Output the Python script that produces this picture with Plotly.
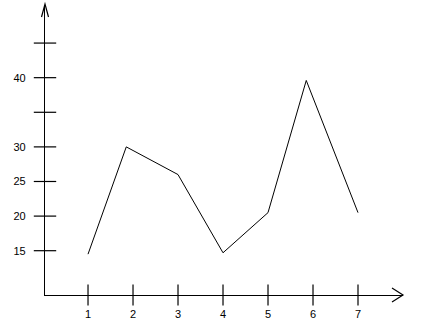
import plotly.graph_objects as go

# Data
x_labels = ["1", "2", "3", "4", "5", "6", "7"]
x_tick_pos = [1, 2, 3, 4, 5, 6, 7]
x_pos = [1, 1.85, 3, 4, 5, 5.85, 7]
y_vals = [14.5, 30, 26, 14.7, 20.5, 39.6, 20.5]
y_label_vals = [15, 20, 25, 30, 40]
y_tick_marks = [15, 20, 25, 30, 35, 40, 45]

W, H = 423, 324
ML, MR, MT, MB = 45, 20, 5, 29
X_RANGE = [0.044, 8.0]
Y_RANGE = [8.6, 50.5]

fig = go.Figure()

# data line
fig.add_trace(go.Scatter(x=x_pos, y=y_vals, mode="lines",
                         line=dict(color="black", width=1), hoverinfo="skip"))

# x tick marks crossing the axis
fig.add_trace(go.Scatter(x=x_tick_pos, y=[Y_RANGE[0]] * len(x_tick_pos), mode="markers",
                         marker=dict(symbol="line-ns-open", size=15, color="black",
                                     line=dict(color="black", width=1.2)),
                         cliponaxis=False, hoverinfo="skip"))
# y tick marks crossing the axis
fig.add_trace(go.Scatter(x=[X_RANGE[0]] * len(y_tick_marks), y=y_tick_marks, mode="markers",
                         marker=dict(symbol="line-ew-open", size=16, color="black",
                                     line=dict(color="black", width=1.2)),
                         cliponaxis=False, hoverinfo="skip"))

pw = W - ML - MR
ph = H - MT - MB


def px(x, y):
    return (x - ML) / pw, (H - MB - y) / ph


def chevron(p):
    pts = [px(*q) for q in p]
    d = "M {} {} L {} {} L {} {}".format(pts[0][0], pts[0][1], pts[1][0], pts[1][1],
                                           pts[2][0], pts[2][1])
    return dict(type="path", xref="paper", yref="paper", path=d,
                line=dict(color="black", width=1.2))


shapes = [
    chevron([(41.5, 17), (45, 4), (48.5, 17)]),
    chevron([(392, 288), (403, 295), (392, 302)]),
]

fig.update_layout(
    width=W, height=H,
    margin=dict(l=ML, r=MR, t=MT, b=MB),
    paper_bgcolor="white", plot_bgcolor="white",
    showlegend=False,
    font=dict(family="Liberation Sans, Arial, sans-serif", size=11, color="black"),
    shapes=shapes,
    xaxis=dict(range=X_RANGE, showgrid=False, zeroline=False,
               showline=True, linecolor="black", linewidth=1.3,
               tickmode="array", tickvals=x_tick_pos, ticktext=x_labels,
               ticks="outside", ticklen=9, tickcolor="rgba(0,0,0,0)"),
    yaxis=dict(range=Y_RANGE, showgrid=False, zeroline=False,
               showline=True, linecolor="black", linewidth=1.3,
               tickmode="array", tickvals=y_label_vals,
               ticktext=[str(v) for v in y_label_vals],
               ticks="outside", ticklen=16, tickcolor="rgba(0,0,0,0)"),
)

fig.write_html("out.html")
